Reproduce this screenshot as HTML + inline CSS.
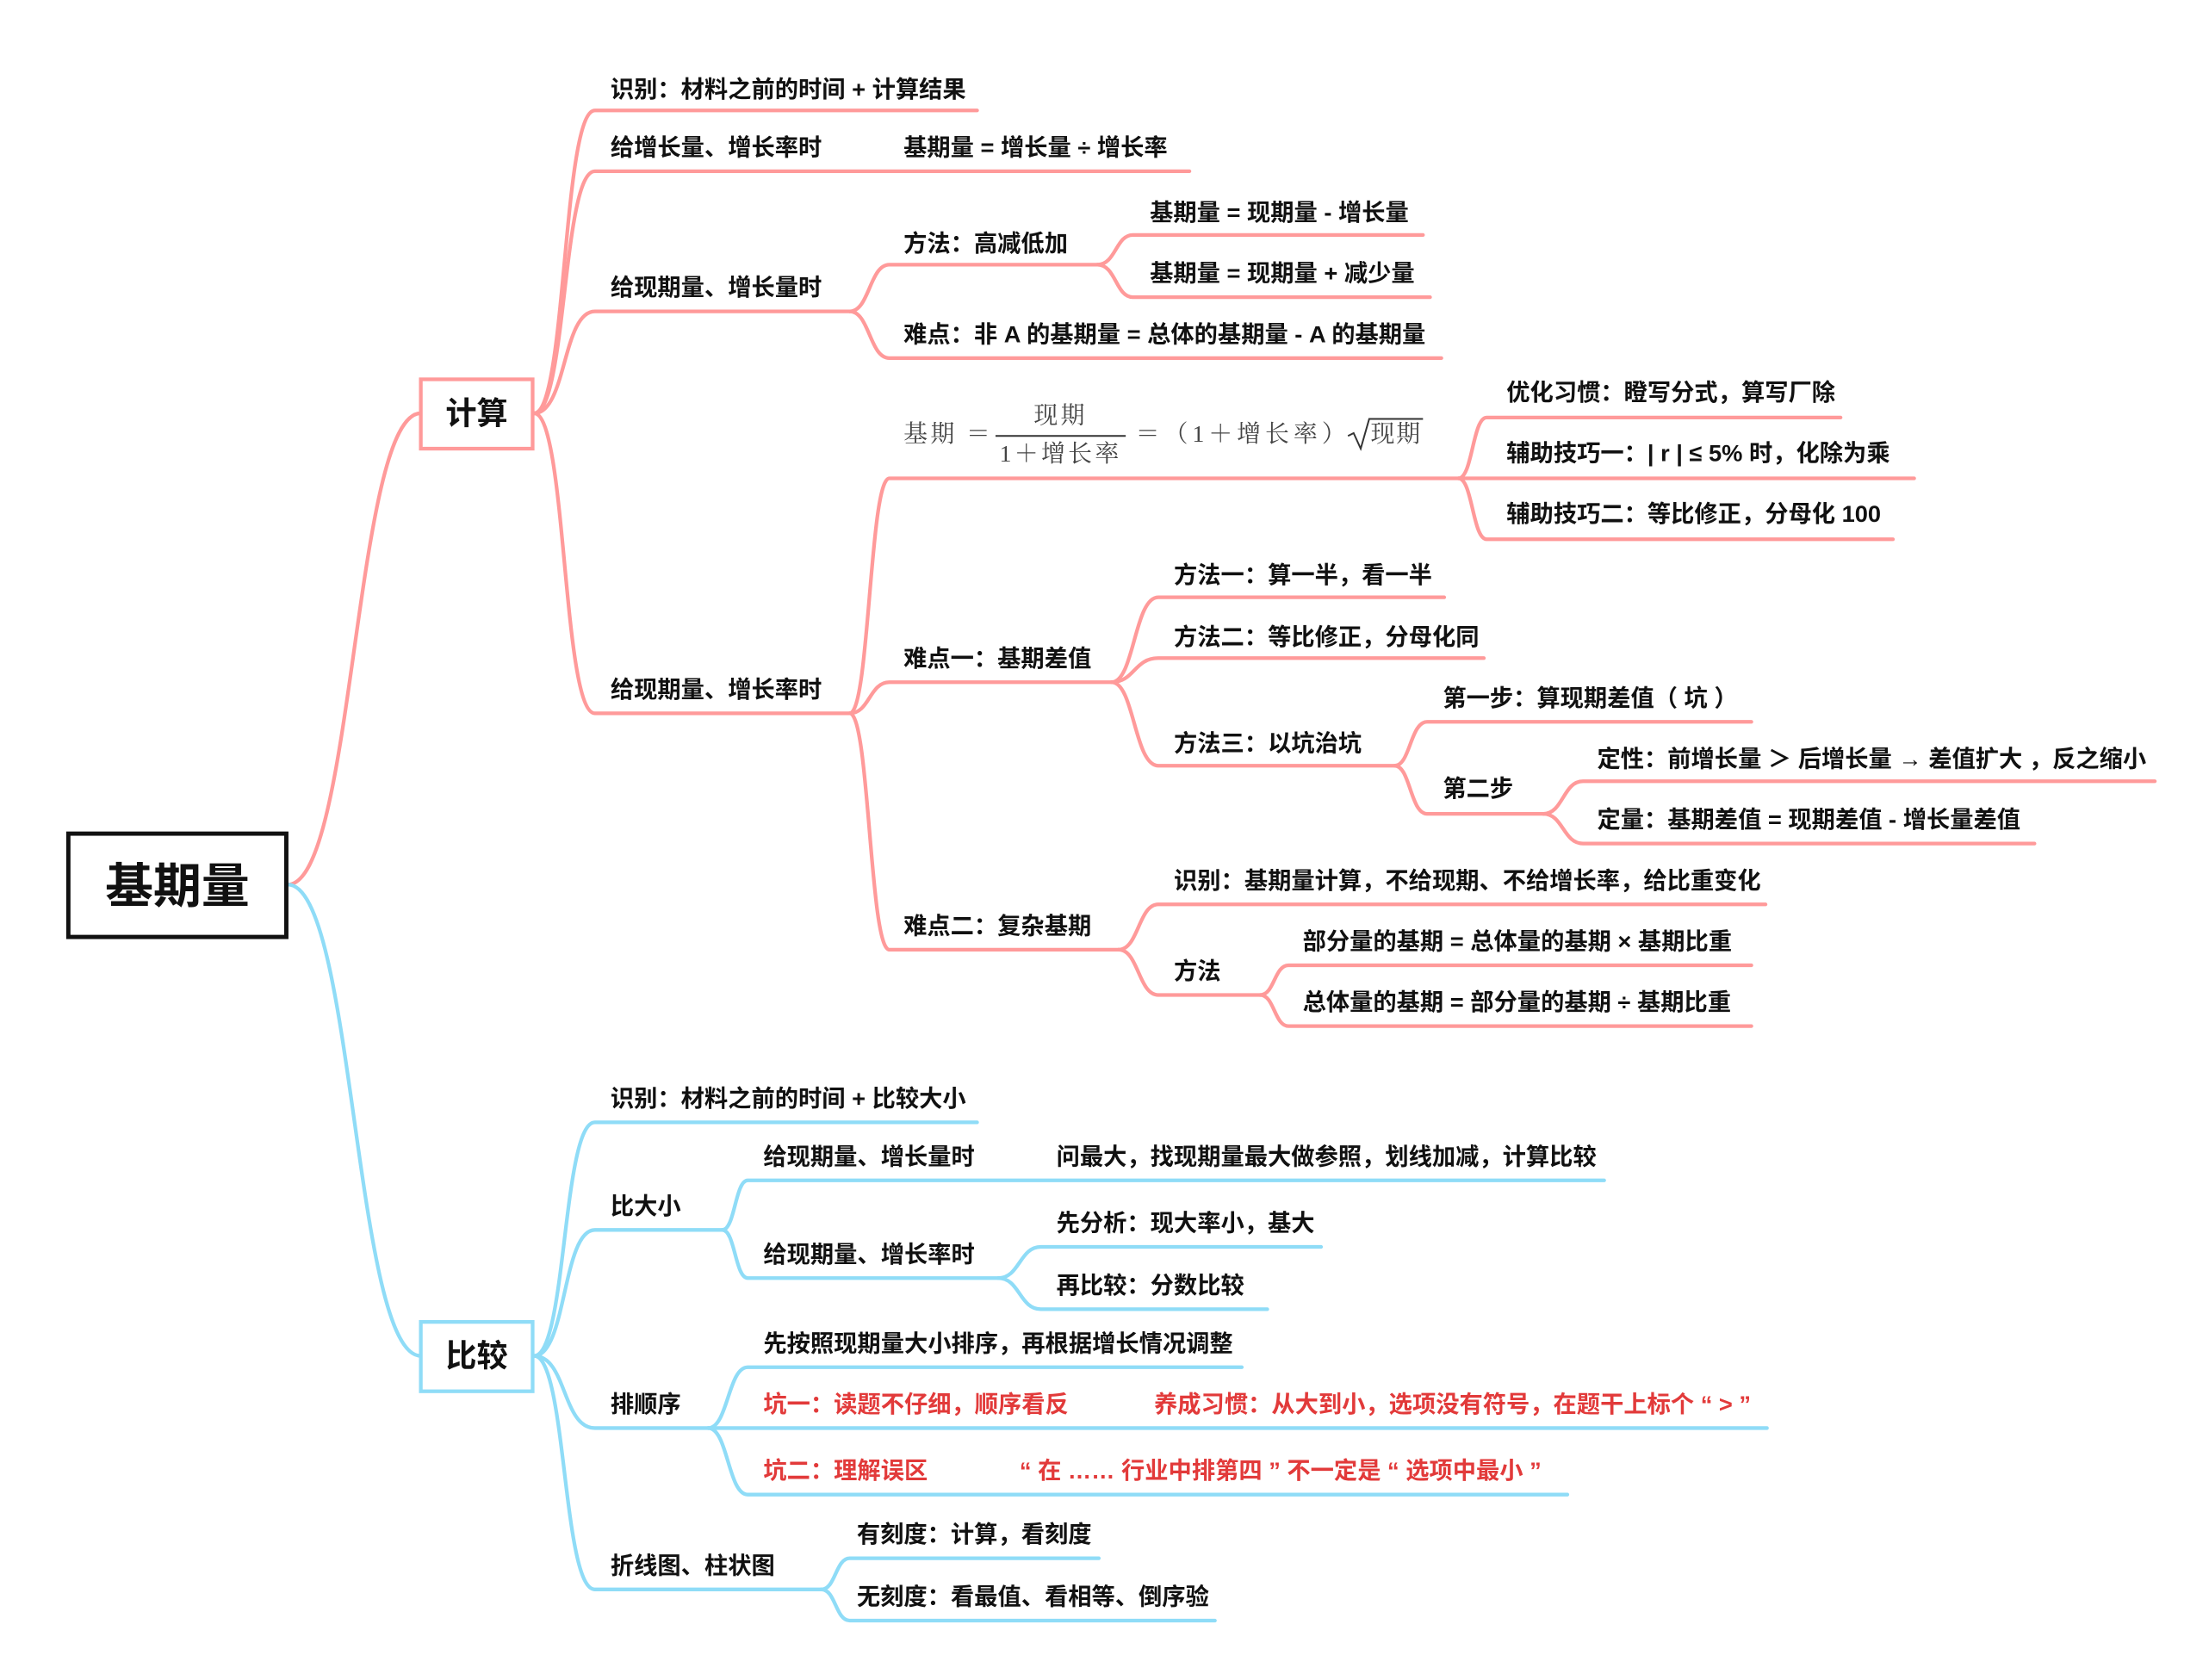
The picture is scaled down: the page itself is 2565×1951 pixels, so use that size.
<!DOCTYPE html>
<html><head><meta charset="utf-8"><style>
html,body{margin:0;padding:0;background:#fff;}
svg{display:block;}
text{font-family:"Liberation Sans","Noto Sans CJK SC",sans-serif;font-weight:bold;font-size:16.6px;fill:#111;dominant-baseline:central;}
.r{fill:#e23a3a;}
.f{font-family:"Liberation Serif","Noto Serif CJK SC",serif;font-weight:normal;fill:#444;font-size:17px;}
.p{fill:none;stroke:#ff9a9a;stroke-width:2.6;stroke-linecap:round;}
.b{fill:none;stroke:#8fdcf7;stroke-width:2.6;stroke-linecap:round;}
</style></head><body>
<svg width="2565" height="1951" viewBox="0 0 1560 1187" xmlns="http://www.w3.org/2000/svg">
<rect width="1560" height="1187" fill="#fff"/>
<path class="p" d="M203 625 C250 625,250 292,297 292"/>
<path class="b" d="M203 625 C250 625,250 958,297 958"/>
<g class="p">
<path d="M377 292 C400 292,397 78,420 78 L690 78"/>
<path d="M377 292 C400 292,397 121,420 121 L840 121"/>
<path d="M377 292 C400 292,397 220,420 220 L600 220"/>
<path d="M377 292 C400 292,397 504,420 504 L600 504"/>
<path d="M600 220 C614 220,614 187,628 187 L775 187"/>
<path d="M600 220 C614 220,614 253,628 253 L1018 253"/>
<path d="M775 187 C788 187,788 166,800 166 L1005 166"/>
<path d="M775 187 C788 187,788 210,800 210 L1010 210"/>
<path d="M600 504 C614 504,614 338,628 338 L1030 338"/>
<path d="M600 504 C614 504,614 482,628 482 L785 482"/>
<path d="M600 504 C614 504,614 671,628 671 L790 671"/>
<path d="M1030 338 C1040 338,1040 295,1050 295 L1300 295"/>
<path d="M1030 338 L1352 338"/>
<path d="M1030 338 C1040 338,1040 381,1050 381 L1337 381"/>
<path d="M785 482 C801 482,801 422,818 422 L1020 422"/>
<path d="M785 482 C801 482,801 465,818 465 L1048 465"/>
<path d="M785 482 C801 482,801 541,818 541 L985 541"/>
<path d="M985 541 C996 541,996 510,1008 510 L1237 510"/>
<path d="M985 541 C996 541,996 575,1008 575 L1090 575"/>
<path d="M1090 575 C1104 575,1104 552,1118 552 L1522 552"/>
<path d="M1090 575 C1104 575,1104 596,1118 596 L1437 596"/>
<path d="M790 671 C804 671,804 639,818 639 L1247 639"/>
<path d="M790 671 C804 671,804 703,818 703 L890 703"/>
<path d="M890 703 C900 703,900 682,910 682 L1237 682"/>
<path d="M890 703 C900 703,900 725,910 725 L1237 725"/>
</g>
<g class="b">
<path d="M377 958 C400 958,397 793,420 793 L690 793"/>
<path d="M377 958 C400 958,397 869,420 869 L510 869"/>
<path d="M377 958 C400 958,397 1009,420 1009 L500 1009"/>
<path d="M377 958 C400 958,397 1123,420 1123 L580 1123"/>
<path d="M510 869 C519 869,519 834,528 834 L1133 834"/>
<path d="M510 869 C519 869,519 903,528 903 L705 903"/>
<path d="M705 903 C720 903,720 881,735 881 L933 881"/>
<path d="M705 903 C720 903,720 925,735 925 L895 925"/>
<path d="M500 1009 C514 1009,514 966,528 966 L877 966"/>
<path d="M500 1009 L1248 1009"/>
<path d="M500 1009 C514 1009,514 1056,528 1056 L1107 1056"/>
<path d="M580 1123 C590 1123,590 1101,600 1101 L776 1101"/>
<path d="M580 1123 C590 1123,590 1145,600 1145 L858 1145"/>
</g>
<rect x="48" y="589" width="154" height="73" fill="#fff" stroke="#111" stroke-width="3"/>
<text x="125" y="626" text-anchor="middle" style="font-size:34px">基期量</text>
<rect x="297" y="268" width="79" height="49" fill="#fff" stroke="#ff9a9a" stroke-width="2.6"/>
<text x="336.5" y="292" text-anchor="middle" style="font-size:22px">计算</text>
<rect x="297" y="934" width="79" height="49" fill="#fff" stroke="#8fdcf7" stroke-width="2.6"/>
<text x="336.5" y="958" text-anchor="middle" style="font-size:22px">比较</text>
<text x="431" y="63">识别：材料之前的时间 + 计算结果</text>
<text x="431" y="104">给增长量、增长率时</text>
<text x="638" y="104">基期量 = 增长量 ÷ 增长率</text>
<text x="431" y="203">给现期量、增长量时</text>
<text x="638" y="172">方法：高减低加</text>
<text x="812" y="150">基期量 = 现期量 - 增长量</text>
<text x="812" y="193">基期量 = 现期量 + 减少量</text>
<text x="638" y="236">难点：非 A 的基期量 = 总体的基期量 - A 的基期量</text>
<text x="431" y="487">给现期量、增长率时</text>
<text class="f" x="638" y="307" style="letter-spacing:2px">基期 ＝</text>
<text class="f" x="749" y="294" text-anchor="middle" style="letter-spacing:2px">现期</text>
<line x1="703" y1="308" x2="795" y2="308" stroke="#333" stroke-width="1.2"/>
<text class="f" x="749" y="321" text-anchor="middle" style="letter-spacing:2px">1＋增长率</text>
<text class="f" x="802" y="307" style="letter-spacing:3px">＝（1＋增长率）</text>
<path d="M952 308 L956 306 L961 317 L967 296 L1005 296" fill="none" stroke="#333" stroke-width="1.2"/>
<text class="f" x="968" y="307" style="letter-spacing:1px">现期</text>
<text x="1064" y="277">优化习惯：瞪写分式，算写厂除</text>
<text x="1064" y="320">辅助技巧一：| r | ≤ 5% 时，化除为乘</text>
<text x="1064" y="363">辅助技巧二：等比修正，分母化 100</text>
<text x="638" y="465">难点一：基期差值</text>
<text x="829" y="406">方法一：算一半，看一半</text>
<text x="829" y="450">方法二：等比修正，分母化同</text>
<text x="829" y="525">方法三：以坑治坑</text>
<text x="1019" y="493">第一步：算现期差值（ 坑 ）</text>
<text x="1019" y="557">第二步</text>
<text x="1128" y="536">定性：前增长量 ＞ 后增长量 → 差值扩大 ，反之缩小</text>
<text x="1128" y="579">定量：基期差值 = 现期差值 - 增长量差值</text>
<text x="638" y="654">难点二：复杂基期</text>
<text x="829" y="622">识别：基期量计算，不给现期、不给增长率，给比重变化</text>
<text x="829" y="686">方法</text>
<text x="920" y="665">部分量的基期 = 总体量的基期 × 基期比重</text>
<text x="920" y="708">总体量的基期 = 部分量的基期 ÷ 基期比重</text>
<text x="431" y="776">识别：材料之前的时间 + 比较大小</text>
<text x="431" y="852">比大小</text>
<text x="539" y="817">给现期量、增长量时</text>
<text x="746" y="817">问最大，找现期量最大做参照，划线加减，计算比较</text>
<text x="539" y="886">给现期量、增长率时</text>
<text x="746" y="864">先分析：现大率小，基大</text>
<text x="746" y="908">再比较：分数比较</text>
<text x="431" y="992">排顺序</text>
<text x="539" y="949">先按照现期量大小排序，再根据增长情况调整</text>
<text class="r" x="539" y="992">坑一：读题不仔细，顺序看反</text>
<text class="r" x="815" y="992">养成习惯：从大到小，选项没有符号，在题干上标个 “ > ”</text>
<text class="r" x="539" y="1039">坑二：理解误区</text>
<text class="r" x="720" y="1039">“ 在 …… 行业中排第四 ” 不一定是 “ 选项中最小 ”</text>
<text x="431" y="1106">折线图、柱状图</text>
<text x="605" y="1084">有刻度：计算，看刻度</text>
<text x="605" y="1128">无刻度：看最值、看相等、倒序验</text>
</svg>
</body></html>
